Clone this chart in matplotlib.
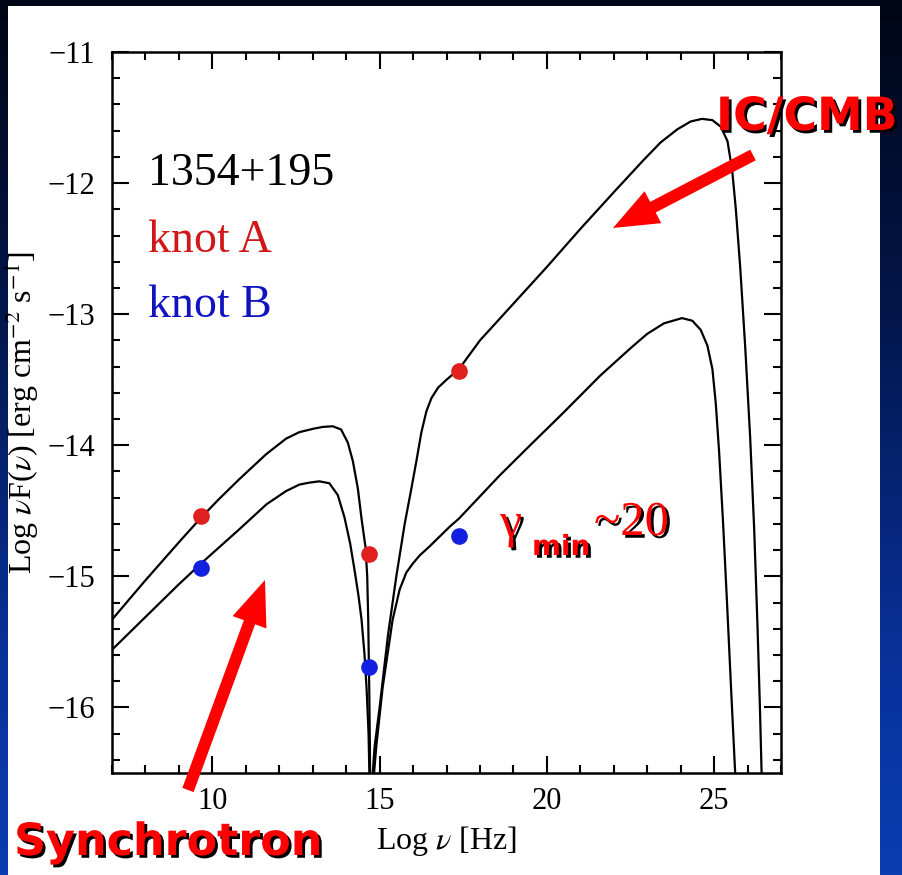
import numpy as np
import matplotlib
matplotlib.use('Agg')
import matplotlib.pyplot as plt
from matplotlib.patches import Rectangle, FancyArrow
from matplotlib.colors import LinearSegmentedColormap
import matplotlib.patheffects as pe
from matplotlib.ticker import MultipleLocator, FixedLocator

plt.rcParams['mathtext.fontset'] = 'stix'

# ---------------- data ----------------
knotA_x = [7.0, 8.0, 9.0, 9.67, 10.2, 10.8, 11.6, 12.2, 12.6, 13.0, 13.3, 13.6, 13.85, 14.05,
           14.2, 14.35, 14.46, 14.58, 14.63, 14.66, 14.69, 14.71, 14.72,
           14.74, 14.85, 15.0, 15.25, 15.5, 15.75, 15.95, 16.1, 16.25, 16.4, 16.55, 16.75,
           17.0, 17.37, 18.0, 19.0, 20.0, 21.0, 22.0, 22.87, 23.4, 23.9, 24.3, 24.64,
           24.95, 25.2, 25.4, 25.54, 25.65, 25.78, 25.93, 26.08, 26.2, 26.3, 26.37, 26.43]
knotA_y = [-15.33, -15.03, -14.74, -14.55, -14.41, -14.26, -14.07, -13.95, -13.90, -13.875,
           -13.86, -13.855, -13.88, -13.98, -14.12, -14.33, -14.56, -14.78, -15.0, -15.33,
           -15.85, -16.3, -16.7,
           -16.7, -16.3, -16.0, -15.45, -15.0, -14.6, -14.33, -14.12, -13.9, -13.74, -13.64,
           -13.56, -13.5, -13.42, -13.2, -12.92, -12.64, -12.35, -12.07, -11.83, -11.69,
           -11.59, -11.53, -11.51, -11.52, -11.57, -11.68, -11.9, -12.2, -12.64, -13.25,
           -13.95, -14.65, -15.4, -16.0, -16.6]

knotB_x = [7.0, 8.0, 9.0, 9.67, 10.81, 11.62, 12.2, 12.6, 12.9, 13.2, 13.5, 13.75, 13.95,
           14.12, 14.25, 14.37, 14.46, 14.55, 14.61, 14.67, 14.71,
           14.77, 14.9, 15.09, 15.39, 15.6, 15.8, 16.0, 16.2, 16.5, 17.1, 17.37, 18.59,
           19.5, 20.5, 21.59, 22.5, 23.0, 23.5, 24.04, 24.35, 24.6, 24.8, 24.95, 25.05,
           25.15, 25.27, 25.39, 25.51, 25.63, 25.67]
knotB_y = [-15.56, -15.31, -15.06, -14.90, -14.64, -14.45, -14.35, -14.30, -14.285, -14.275,
           -14.29, -14.38, -14.55, -14.75, -14.95, -15.15, -15.33, -15.6, -15.85, -16.2,
           -16.7,
           -16.7, -16.3, -15.85, -15.33, -15.1, -14.97, -14.9, -14.84, -14.77, -14.62,
           -14.56, -14.23, -14.0, -13.75, -13.47, -13.26, -13.15, -13.07, -13.03, -13.05,
           -13.12, -13.24, -13.42, -13.68, -14.05, -14.6, -15.22, -15.87, -16.5, -16.8]

pointsA_x = [9.67, 14.67, 17.37]
pointsA_y = [-14.54, -14.83, -13.43]
pointsB_x = [9.67, 14.67, 17.37]
pointsB_y = [-14.94, -15.69, -14.69]

x_major = [10, 15, 20, 25]
y_major = [-16, -15, -14, -13, -12, -11]
x_ticklabels = ['10', '15', '20', '25']
y_ticklabels = ['\u221216', '\u221215', '\u221214', '\u221213', '\u221212', '\u221211']

RED = '#e01f1f'
BLUE = '#1320e0'
SERIF = ['Liberation Serif', 'DejaVu Serif']

W, H = 903, 875
fig = plt.figure(figsize=(W / 100, H / 100), dpi=100)

# background gradient + white panel
bg = fig.add_axes([0, 0, 1, 1], zorder=0)
cmap = LinearSegmentedColormap.from_list(
    'bg', [(0, '#000615'), (0.35, '#03164a'), (0.75, '#08319a'), (1, '#0b3db0')])
grad = np.linspace(0, 1, 256).reshape(-1, 1)
bg.imshow(grad, aspect='auto', cmap=cmap, extent=[0, W, H, 0])
bg.set_xlim(0, W)
bg.set_ylim(H, 0)
bg.axis('off')
bg.add_patch(Rectangle((8, 6), 872, H - 6, facecolor='white', edgecolor='none'))

# main axes
ax = fig.add_axes([112 / W, 1 - 773 / H, (781 - 112) / W, (773 - 52) / H], zorder=2)
ax.set_facecolor('white')
ax.plot(knotA_x, knotA_y, color='black', lw=1.6, solid_joinstyle='round')
ax.plot(knotB_x, knotB_y, color='black', lw=1.6, solid_joinstyle='round')
ax.plot(pointsA_x, pointsA_y, 'o', color=RED, ms=12, mec='none', zorder=3)
ax.plot(pointsB_x, pointsB_y, 'o', color=BLUE, ms=12, mec='none', zorder=3)
ax.set_xlim(7, 27)
ax.set_ylim(-16.5, -11)

ax.xaxis.set_major_locator(FixedLocator(x_major))
ax.yaxis.set_major_locator(FixedLocator(y_major))
ax.set_xticklabels(x_ticklabels)
ax.set_yticklabels(y_ticklabels)
for lab in ax.get_xticklabels() + ax.get_yticklabels():
    lab.set_fontfamily(SERIF)
    lab.set_fontsize(22)
ax.xaxis.set_minor_locator(MultipleLocator(1))
ax.yaxis.set_minor_locator(MultipleLocator(0.2))
ax.tick_params(which='both', direction='in', top=True, right=True, width=1.5, color='black')
ax.tick_params(which='major', length=12)
ax.tick_params(which='minor', length=6)
ax.tick_params(axis='y', which='major', pad=12)
ax.tick_params(axis='x', which='major', pad=10)
for s in ax.spines.values():
    s.set_linewidth(1.8)

xl = ax.set_xlabel(r'Log $\nu$ [Hz]', labelpad=6)
xl.set_fontfamily(SERIF)
xl.set_fontsize(23)
yl = ax.set_ylabel(r'Log $\nu$F($\nu$) [erg cm$^{-2}$ s$^{-1}$]', labelpad=5)
yl.set_fontfamily(SERIF)
yl.set_fontsize(23)

# overlay in pixel coordinates
ov = fig.add_axes([0, 0, 1, 1], zorder=3)
ov.set_xlim(0, W)
ov.set_ylim(H, 0)
ov.axis('off')

ov.text(148, 185, '1354+195', fontfamily=SERIF, fontsize=33, color='black', va='baseline')
ov.text(148, 252, 'knot A', fontfamily=SERIF, fontsize=33, color='#d01818', va='baseline')
ov.text(148, 317, 'knot B', fontfamily=SERIF, fontsize=33, color='#1212c0', va='baseline')

shadow = [pe.withSimplePatchShadow(offset=(2, -2), shadow_rgbFace='black', alpha=1.0)]
ov.text(716, 130, 'IC/CMB', fontfamily='DejaVu Sans', fontweight='bold', fontsize=33,
        color='red', va='baseline', path_effects=shadow)
ov.text(14, 855, 'Synchrotron', fontfamily='DejaVu Sans', fontweight='bold', fontsize=32,
        color='red', va='baseline', path_effects=shadow)
ov.text(500, 537, '\u03b3', fontfamily=SERIF, fontsize=36, color='red', va='baseline',
        path_effects=shadow)
ov.text(532, 555, 'min', fontfamily='DejaVu Sans', fontweight='bold', fontsize=20,
        color='red', va='baseline', path_effects=shadow)
ov.text(594, 535, '~20', fontfamily=SERIF, fontsize=35, color='red', va='baseline',
        path_effects=shadow)

ov.add_patch(FancyArrow(753, 155, 613 - 753, 228 - 155, width=12, head_width=36,
                        head_length=45, length_includes_head=True, color='red', lw=0))
ov.add_patch(FancyArrow(188, 790, 265 - 188, 580 - 790, width=12, head_width=36,
                        head_length=45, length_includes_head=True, color='red', lw=0))

fig.savefig('out.png', dpi=100)
